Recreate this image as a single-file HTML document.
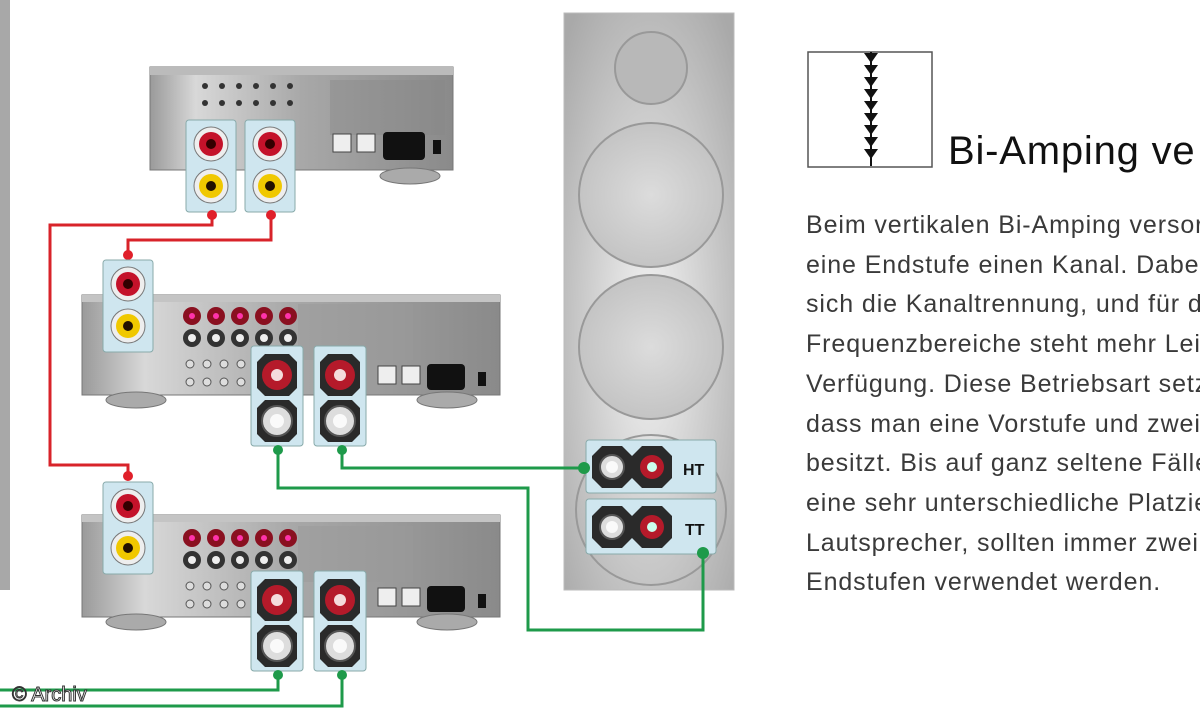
<!DOCTYPE html>
<html><head><meta charset="utf-8"><style>
html,body{margin:0;padding:0;background:#fff;width:1200px;height:720px;overflow:hidden}
svg{position:absolute;left:0;top:0}
.t{position:absolute;left:806px;top:206px;font:25px/39.7px "Liberation Sans",sans-serif;letter-spacing:0.9px;color:#3a3a3a;white-space:nowrap}
.h{position:absolute;left:948px;top:129px;font:40px "Liberation Sans",sans-serif;letter-spacing:0.8px;color:#111;white-space:nowrap}
.c{position:absolute;left:12px;top:684px;font:20px "Liberation Sans",sans-serif;color:#fff;-webkit-text-stroke:1px #333;white-space:nowrap}
</style></head><body>
<svg width="1200" height="720" viewBox="0 0 1200 720">
<defs>
<linearGradient id="body" x1="0" y1="0" x2="1" y2="0">
<stop offset="0" stop-color="#9a9a9a"/><stop offset="0.15" stop-color="#d8d8d8"/><stop offset="0.5" stop-color="#a8a8a8"/><stop offset="1" stop-color="#8a8a8a"/></linearGradient>
<radialGradient id="spk" cx="0.5" cy="0.55" r="0.7"><stop offset="0" stop-color="#f4f4f4"/><stop offset="1" stop-color="#a9a9a9"/></radialGradient>
<radialGradient id="cone" cx="0.5" cy="0.5" r="0.5"><stop offset="0" stop-color="#dcdcdc"/><stop offset="1" stop-color="#c4c4c4"/></radialGradient>
<g id="rca">
<rect x="0" y="0" width="50" height="92" rx="3" fill="#cfe6ef" stroke="#8aa"/>
<circle cx="25" cy="24" r="17" fill="#eee" stroke="#777"/><circle cx="25" cy="24" r="12" fill="#c4122a"/><circle cx="25" cy="24" r="5" fill="#300"/>
<circle cx="25" cy="66" r="17" fill="#eee" stroke="#777"/><circle cx="25" cy="66" r="12" fill="#f0c800"/><circle cx="25" cy="66" r="5" fill="#210"/>
</g>
<g id="post">
<rect x="0" y="0" width="52" height="100" rx="3" fill="#cfe6ef" stroke="#8aa"/>
<polygon points="14,8 38,8 46,16 46,42 38,50 14,50 6,42 6,16" fill="#2a2a2a"/>
<circle cx="26" cy="29" r="15" fill="#b51a2a"/><circle cx="26" cy="29" r="6" fill="#f4dcdc"/>
<polygon points="14,54 38,54 46,62 46,88 38,96 14,96 6,88 6,62" fill="#2a2a2a"/>
<circle cx="26" cy="75" r="15" fill="#ddd" stroke="#555" stroke-width="2"/><circle cx="26" cy="75" r="7" fill="#fafafa"/>
</g>
<g id="ampdecor">
<g fill="#8a1020"><circle cx="192" cy="16" r="9"/><circle cx="216" cy="16" r="9"/><circle cx="240" cy="16" r="9"/><circle cx="264" cy="16" r="9"/><circle cx="288" cy="16" r="9"/></g>
<g fill="#f3a"><circle cx="192" cy="16" r="3"/><circle cx="216" cy="16" r="3"/><circle cx="240" cy="16" r="3"/><circle cx="264" cy="16" r="3"/><circle cx="288" cy="16" r="3"/></g>
<g fill="#333"><circle cx="192" cy="38" r="9"/><circle cx="216" cy="38" r="9"/><circle cx="240" cy="38" r="9"/><circle cx="264" cy="38" r="9"/><circle cx="288" cy="38" r="9"/></g>
<g fill="#eee"><circle cx="192" cy="38" r="4"/><circle cx="216" cy="38" r="4"/><circle cx="240" cy="38" r="4"/><circle cx="264" cy="38" r="4"/><circle cx="288" cy="38" r="4"/></g>
<g fill="#ddd" stroke="#555"><circle cx="190" cy="64" r="4"/><circle cx="207" cy="64" r="4"/><circle cx="224" cy="64" r="4"/><circle cx="241" cy="64" r="4"/><circle cx="190" cy="82" r="4"/><circle cx="207" cy="82" r="4"/><circle cx="224" cy="82" r="4"/><circle cx="241" cy="82" r="4"/></g>
<rect x="298" y="4" width="115" height="56" fill="#9a9a9a" opacity="0.5"/>
<rect x="378" y="66" width="18" height="18" fill="#eee" stroke="#444"/><rect x="402" y="66" width="18" height="18" fill="#eee" stroke="#444"/>
<rect x="427" y="64" width="38" height="26" rx="4" fill="#111"/>
<rect x="478" y="72" width="8" height="14" fill="#111"/>
</g>
</defs>
<rect x="0" y="0" width="10" height="590" fill="#a8a8a8"/>
<rect x="564" y="13" width="170" height="577" fill="url(#spk)" stroke="#bbb"/>
<circle cx="651" cy="68" r="36" fill="#b8b8b8" stroke="#999" stroke-width="2"/>
<circle cx="651" cy="195" r="72" fill="url(#cone)" stroke="#999" stroke-width="2"/>
<circle cx="651" cy="347" r="72" fill="url(#cone)" stroke="#999" stroke-width="2"/>
<circle cx="651" cy="510" r="75" fill="none" stroke="#999" stroke-width="2"/>
<rect x="150" y="67" width="303" height="103" fill="url(#body)" stroke="#777"/>
<rect x="150" y="67" width="303" height="8" fill="#bbb"/>
<ellipse cx="410" cy="176" rx="30" ry="8" fill="#aaa" stroke="#777"/>
<rect x="330" y="80" width="115" height="55" fill="#888" opacity="0.4"/>
<g fill="#333"><circle cx="205" cy="86" r="3"/><circle cx="222" cy="86" r="3"/><circle cx="239" cy="86" r="3"/><circle cx="256" cy="86" r="3"/><circle cx="273" cy="86" r="3"/><circle cx="290" cy="86" r="3"/><circle cx="205" cy="103" r="3"/><circle cx="222" cy="103" r="3"/><circle cx="239" cy="103" r="3"/><circle cx="256" cy="103" r="3"/><circle cx="273" cy="103" r="3"/><circle cx="290" cy="103" r="3"/></g>
<rect x="333" y="134" width="18" height="18" fill="#eee" stroke="#444"/><rect x="357" y="134" width="18" height="18" fill="#eee" stroke="#444"/>
<rect x="383" y="132" width="42" height="28" rx="4" fill="#111"/><rect x="433" y="140" width="8" height="14" fill="#111"/>
<use href="#rca" x="186" y="120"/><use href="#rca" x="245" y="120"/>
<rect x="82" y="295" width="418" height="100" fill="url(#body)" stroke="#777"/>
<rect x="82" y="295" width="418" height="7" fill="#c4c4c4"/>
<ellipse cx="136" cy="400" rx="30" ry="8" fill="#aaa" stroke="#777"/><ellipse cx="447" cy="400" rx="30" ry="8" fill="#aaa" stroke="#777"/>
<use href="#ampdecor" x="0" y="300"/>
<rect x="82" y="515" width="418" height="102" fill="url(#body)" stroke="#777"/>
<rect x="82" y="515" width="418" height="7" fill="#c4c4c4"/>
<ellipse cx="136" cy="622" rx="30" ry="8" fill="#aaa" stroke="#777"/><ellipse cx="447" cy="622" rx="30" ry="8" fill="#aaa" stroke="#777"/>
<use href="#ampdecor" x="0" y="522"/>
<g fill="none" stroke="#d8232a" stroke-width="3">
<polyline points="212,215 212,225 50,225 50,465 128,465 128,478"/>
<polyline points="271,215 271,240 128,240 128,255"/>
</g>
<g fill="#e0202a"><circle cx="212" cy="215" r="5"/><circle cx="271" cy="215" r="5"/><circle cx="128" cy="255" r="5"/><circle cx="128" cy="476" r="5"/></g>
<use href="#rca" x="103" y="260"/><use href="#rca" x="103" y="482"/>
<use href="#post" x="251" y="346"/><use href="#post" x="314" y="346"/>
<use href="#post" x="251" y="571"/><use href="#post" x="314" y="571"/>
<rect x="586" y="440" width="130" height="53" rx="3" fill="#cfe6ef" stroke="#8aa"/>
<rect x="586" y="499" width="130" height="55" rx="3" fill="#cfe6ef" stroke="#8aa"/>
<g>
<polygon points="602,446 622,446 632,456 632,478 622,488 602,488 592,478 592,456" fill="#2a2a2a"/><circle cx="612" cy="467" r="12" fill="#ddd" stroke="#555" stroke-width="2"/><circle cx="612" cy="467" r="6" fill="#fafafa"/>
<polygon points="642,446 662,446 672,456 672,478 662,488 642,488 632,478 632,456" fill="#2a2a2a"/><circle cx="652" cy="467" r="12" fill="#b51a2a"/><circle cx="652" cy="467" r="5" fill="#cfe"/>
<polygon points="602,506 622,506 632,516 632,538 622,548 602,548 592,538 592,516" fill="#2a2a2a"/><circle cx="612" cy="527" r="12" fill="#ddd" stroke="#555" stroke-width="2"/><circle cx="612" cy="527" r="6" fill="#fafafa"/>
<polygon points="642,506 662,506 672,516 672,538 662,548 642,548 632,538 632,516" fill="#2a2a2a"/><circle cx="652" cy="527" r="12" fill="#b51a2a"/><circle cx="652" cy="527" r="5" fill="#cfe"/>
</g>
<text x="683" y="475" font-family="Liberation Sans" font-weight="bold" font-size="16" fill="#111">HT</text>
<text x="685" y="535" font-family="Liberation Sans" font-weight="bold" font-size="16" fill="#111">TT</text>
<g fill="none" stroke="#1e9a4a" stroke-width="3">
<polyline points="278,450 278,488 528,488 528,630 703,630 703,553"/>
<polyline points="342,450 342,468 584,468"/>
<polyline points="278,675 278,690 0,690"/>
<polyline points="342,675 342,706 0,706"/>
</g>
<g fill="#1e9a4a"><circle cx="278" cy="450" r="5"/><circle cx="342" cy="450" r="5"/><circle cx="584" cy="468" r="6"/><circle cx="703" cy="553" r="6"/><circle cx="278" cy="675" r="5"/><circle cx="342" cy="675" r="5"/></g>
<rect x="808" y="52" width="124" height="115" fill="#fff" stroke="#555" stroke-width="1.5"/>
<g fill="#111">
<polygon points="864,53 878,53 871,63"/><polygon points="864,65 878,65 871,75"/><polygon points="864,77 878,77 871,87"/><polygon points="864,89 878,89 871,99"/><polygon points="864,101 878,101 871,111"/><polygon points="864,113 878,113 871,123"/><polygon points="864,125 878,125 871,135"/><polygon points="864,137 878,137 871,147"/><polygon points="864,149 878,149 871,159"/>
</g>
<line x1="871" y1="52" x2="871" y2="166" stroke="#111" stroke-width="2"/>
</svg>
<div class="h">Bi-Amping ve</div>
<div class="t">Beim vertikalen Bi-Amping versor<br>eine Endstufe einen Kanal. Dabei<br>sich die Kanaltrennung, und für d<br>Frequenzbereiche steht mehr Lei<br>Verfügung. Diese Betriebsart setz<br>dass man eine Vorstufe und zwei<br>besitzt. Bis auf ganz seltene Fälle<br>eine sehr unterschiedliche Platzie<br>Lautsprecher, sollten immer zwei<br>Endstufen verwendet werden.</div>
<div class="c">© Archiv</div>
</body></html>
